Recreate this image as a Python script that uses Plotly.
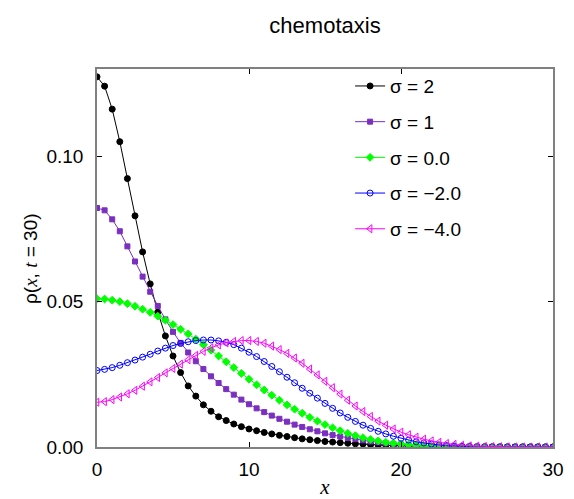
import plotly.graph_objects as go

# grid of positions (step 0.5 from 0 to 30)
x = [i * 0.5 for i in range(61)]

rho_sigma_2 = [
    0.1273, 0.1241, 0.1162, 0.1050, 0.0923, 0.0795, 0.0671, 0.0561, 0.0464, 0.0382,
    0.0313, 0.0256, 0.0210, 0.0175, 0.0145, 0.0123, 0.0104, 0.0091, 0.0079, 0.0070,
    0.0062, 0.0056, 0.0050, 0.0045, 0.0040, 0.0036, 0.0032, 0.0028, 0.0025, 0.0022,
    0.0019, 0.0017, 0.0015, 0.0013, 0.0011, 0.0010, 0.0008, 0.0007, 0.0006, 0.0005,
    0.0004, 0.0004, 0.0003, 0.0003, 0.0002, 0.0002, 0.00015, 0.0001, 0.0001, 0.00008,
    0.00006, 0.00005, 0.00004, 0.00003, 0.00002, 0.00002, 0.00001, 0.00001, 0.00001, 0.0,
    0.0,
]
rho_sigma_1 = [
    0.0822, 0.0814, 0.0783, 0.0742, 0.0690, 0.0638, 0.0586, 0.0534, 0.0485, 0.0439,
    0.0396, 0.0358, 0.0325, 0.0295, 0.0268, 0.0243, 0.0220, 0.0199, 0.0180, 0.0163,
    0.0147, 0.0133, 0.0120, 0.0108, 0.0097, 0.0087, 0.0077, 0.0069, 0.0061, 0.0054,
    0.0047, 0.0041, 0.0036, 0.0031, 0.0027, 0.0023, 0.0019, 0.0016, 0.0013, 0.0011,
    0.0009, 0.0007, 0.0005, 0.0004, 0.0003, 0.0002, 0.00015, 0.0001, 0.00008, 0.00006,
    0.00004, 0.00003, 0.00002, 0.00002, 0.00001, 0.00001, 0.0, 0.0, 0.0, 0.0,
    0.0,
]
rho_sigma_0 = [
    0.0510, 0.0509, 0.0505, 0.0500, 0.0493, 0.0484, 0.0474, 0.0463, 0.0450, 0.0436,
    0.0421, 0.0405, 0.0389, 0.0371, 0.0352, 0.0333, 0.0313, 0.0293, 0.0273, 0.0253,
    0.0233, 0.0214, 0.0196, 0.0178, 0.0161, 0.0145, 0.0130, 0.0116, 0.0102, 0.0089,
    0.0077, 0.0066, 0.0056, 0.0047, 0.0039, 0.0032, 0.0026, 0.0021, 0.0016, 0.0013,
    0.0010, 0.0008, 0.0006, 0.0004, 0.0003, 0.0002, 0.00015, 0.0001, 0.00007, 0.00005,
    0.00003, 0.00002, 0.00001, 0.00001, 0.0, 0.0, 0.0, 0.0, 0.0, 0.0,
    0.0,
]
rho_sigma_m2 = [
    0.0263, 0.0267, 0.0273, 0.0281, 0.0290, 0.0299, 0.0309, 0.0319, 0.0330, 0.0340,
    0.0349, 0.0356, 0.0362, 0.0366, 0.0368, 0.0368, 0.0365, 0.0360, 0.0352, 0.0340,
    0.0326, 0.0311, 0.0294, 0.0277, 0.0259, 0.0240, 0.0221, 0.0202, 0.0185, 0.0168,
    0.0150, 0.0133, 0.0117, 0.0102, 0.0088, 0.0075, 0.0064, 0.0054, 0.0045, 0.0037,
    0.0030, 0.0024, 0.0018, 0.0014, 0.0010, 0.0007, 0.0005, 0.0003, 0.0002, 0.00015,
    0.0001, 0.00007, 0.00005, 0.00003, 0.00002, 0.00001, 0.00001, 0.0, 0.0, 0.0,
    0.0,
]
rho_sigma_m4 = [
    0.0154, 0.0156, 0.0163, 0.0172, 0.0183, 0.0195, 0.0209, 0.0224, 0.0239, 0.0255,
    0.0270, 0.0285, 0.0300, 0.0315, 0.0329, 0.0341, 0.0351, 0.0358, 0.0363, 0.0366,
    0.0366, 0.0363, 0.0357, 0.0347, 0.0335, 0.0322, 0.0306, 0.0288, 0.0268, 0.0248,
    0.0226, 0.0204, 0.0182, 0.0161, 0.0141, 0.0122, 0.0105, 0.0089, 0.0075, 0.0062,
    0.0051, 0.0042, 0.0034, 0.0027, 0.0021, 0.0016, 0.0012, 0.0009, 0.0006, 0.0004,
    0.0003, 0.0002, 0.00013, 0.00008, 0.00005, 0.00003, 0.00002, 0.00001, 0.00001, 0.0,
    0.0,
]

series_names = ["σ = 2", "σ = 1", "σ = 0.0", "σ = \u22122.0", "σ = \u22124.0"]
series_values = [rho_sigma_2, rho_sigma_1, rho_sigma_0, rho_sigma_m2, rho_sigma_m4]
series_colors = ["#000000", "#7b2fbf", "#00ff00", "#0000ff", "#ff00ff"]
series_symbols = ["circle", "square", "diamond", "circle-open", "triangle-left-open"]
series_sizes = [6, 5, 6, 6, 7]

x_ticks = [0, 10, 20, 30]
y_ticks = [0.0, 0.05, 0.10]
y_tick_labels = ["0.00", "0.05", "0.10"]

FONT = "Arial, 'Liberation Sans', sans-serif"
SERIF = "'Liberation Serif', 'Times New Roman', serif"

fig = go.Figure()
for i, (name, vals, col, sym, sz) in enumerate(
        zip(series_names, series_values, series_colors, series_symbols, series_sizes)):
    fig.add_trace(go.Scatter(
        x=x, y=vals, name=name, mode="lines+markers",
        legendgroup=f"g{i}",
        line=dict(color=col, width=1),
        marker=dict(symbol=sym, size=sz, color=col,
                    line=dict(color=col, width=1)),
    ))

axis_common = dict(
    showline=True, linecolor="#808080", linewidth=1.5, mirror="allticks",
    ticks="inside", ticklen=5, tickcolor="#000000", tickwidth=1,
    showgrid=False, zeroline=False, automargin=False,
    tickfont=dict(family=FONT, size=19, color="#000000"),
)

fig.update_layout(
    width=574, height=499,
    margin=dict(l=97, r=21, t=69, b=52),
    paper_bgcolor="white", plot_bgcolor="white",
    title=dict(text="chemotaxis", x=0.5, xref="paper", y=0.95, yanchor="middle",
               font=dict(family=FONT, size=22, color="#000000")),
    xaxis=dict(range=[0, 30], tickvals=x_ticks, ticklabelstandoff=4,
               title=dict(text=f"<span style=\"font-family:{SERIF}\"><i>x</i></span>",
                          font=dict(family=SERIF, size=21, color="#000000"),
                          standoff=2),
               **axis_common),
    yaxis=dict(range=[0, 0.13], tickvals=y_ticks, ticktext=y_tick_labels,
               ticklabelstandoff=8, **axis_common),
    legend=dict(x=0.555, y=1.005, xanchor="left", yanchor="top",
                bgcolor="rgba(0,0,0,0)", borderwidth=0,
                tracegroupgap=8, traceorder="grouped",
                font=dict(family=FONT, size=19, color="#000000")),
    showlegend=True,
)

# vertical axis label, placed beside the tick labels
fig.add_annotation(
    text=(f"ρ(<span style=\"font-family:{SERIF}\"><i>x</i></span>, "
          f"<span style=\"font-family:{SERIF}\"><i>t</i></span> = 30)"),
    xref="paper", yref="paper", x=-0.147, y=0.5,
    xanchor="center", yanchor="middle", textangle=-90, showarrow=False,
    font=dict(family=FONT, size=19, color="#000000"),
)

fig.write_html("out.html")
